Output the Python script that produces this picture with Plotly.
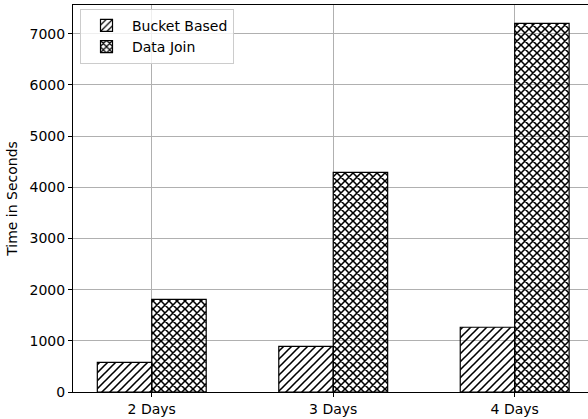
import plotly.graph_objects as go

categories = ["2 Days", "3 Days", "4 Days"]
bucket_based = [580, 890, 1265]
data_join = [1810, 4290, 7200]
y_ticks = [0, 1000, 2000, 3000, 4000, 5000, 6000, 7000]

positions = list(range(len(categories)))

font = dict(family="DejaVu Sans", size=14, color="black")
clear = "rgba(255,255,255,0)"
hatch_size = 8 / 2 ** 0.5  # gives an 8 px pattern tile

fig = go.Figure()
fig.add_trace(go.Bar(
    name="Bucket Based", x=positions, y=bucket_based,
    marker=dict(color=clear,
                line=dict(color="black", width=1.2),
                pattern=dict(shape="/", fgcolor="black", fgopacity=1, bgcolor=clear,
                             size=hatch_size, solidity=0.28)),
))
fig.add_trace(go.Bar(
    name="Data Join", x=positions, y=data_join,
    marker=dict(color=clear,
                line=dict(color="black", width=1.2),
                pattern=dict(shape="x", fgcolor="black", fgopacity=1, bgcolor=clear,
                             size=hatch_size, solidity=0.48)),
))

fig.update_layout(
    width=588, height=419,
    margin=dict(l=73, r=0, t=5, b=27),
    paper_bgcolor="white", plot_bgcolor="white",
    font=font,
    barmode="group", bargap=0.4, bargroupgap=0,
    showlegend=True,
    legend=dict(x=0.0136, y=0.99, xanchor="left", yanchor="top",
                bgcolor="rgba(255,255,255,0.8)", bordercolor="#cccccc", borderwidth=1,
                font=dict(family="DejaVu Sans", size=14, color="black"),
                tracegroupgap=0, itemwidth=41),
    xaxis=dict(range=[-0.434, 2.404], tickmode="array", tickvals=positions, ticktext=categories,
               showgrid=True, gridcolor="#b0b0b0", gridwidth=1,
               showline=True, linecolor="black", linewidth=1, mirror=True,
               ticks="outside", ticklen=4, tickcolor="black", zeroline=False,
               automargin=False, tickfont=dict(size=14)),
    yaxis=dict(range=[0, 7560], tickmode="array", tickvals=y_ticks,
               showgrid=True, gridcolor="#b0b0b0", gridwidth=1,
               showline=True, linecolor="black", linewidth=1,
               ticks="outside", ticklen=4, tickcolor="black", zeroline=False,
               automargin=False, tickfont=dict(size=14),
               title=dict(text="Time in Seconds", standoff=8, font=dict(size=14))),
)

fig.write_html("out.html", config={"displayModeBar": False},
               post_script="document.body.style.margin='0';document.body.style.overflow='hidden';")
